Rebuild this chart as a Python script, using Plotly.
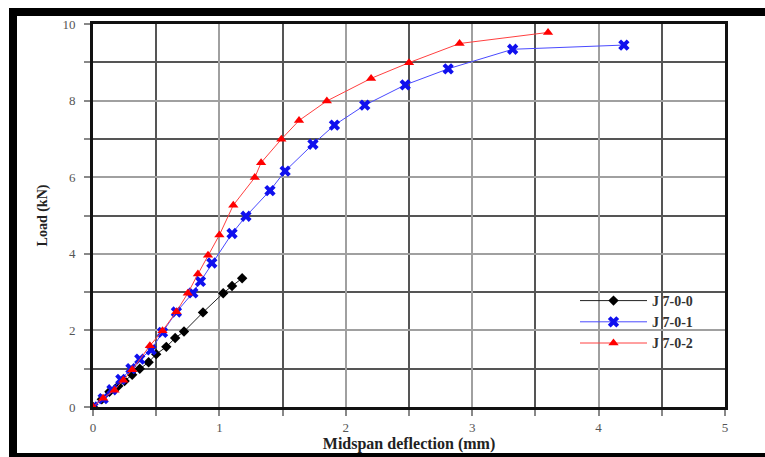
import plotly.graph_objects as go

# ---- data ----
series_names = ["J 7-0-0", "J 7-0-1", "J 7-0-2"]

x_j700 = [0, 0.07, 0.13, 0.20, 0.25, 0.31, 0.37, 0.44, 0.50, 0.58, 0.65, 0.72, 0.87, 1.03, 1.10, 1.18]
y_j700 = [0, 0.20, 0.40, 0.55, 0.68, 0.84, 1.00, 1.17, 1.38, 1.57, 1.80, 1.97, 2.47, 2.97, 3.16, 3.36]

x_j701 = [0, 0.08, 0.15, 0.22, 0.30, 0.37, 0.46, 0.55, 0.66, 0.79, 0.85, 0.94, 1.10, 1.21, 1.40, 1.52, 1.74, 1.91, 2.15, 2.47, 2.81, 3.32, 4.20]
y_j701 = [0, 0.22, 0.45, 0.72, 1.00, 1.25, 1.49, 1.95, 2.48, 2.98, 3.28, 3.76, 4.53, 4.98, 5.65, 6.16, 6.86, 7.36, 7.88, 8.41, 8.83, 9.34, 9.45]

x_j702 = [0, 0.08, 0.17, 0.24, 0.31, 0.45, 0.55, 0.66, 0.75, 0.83, 0.91, 1.00, 1.11, 1.28, 1.33, 1.49, 1.63, 1.85, 2.20, 2.50, 2.90, 3.60]
y_j702 = [0, 0.23, 0.44, 0.70, 0.97, 1.60, 1.99, 2.49, 2.97, 3.47, 3.96, 4.49, 5.27, 5.99, 6.38, 6.99, 7.48, 7.99, 8.58, 8.99, 9.49, 9.78]

x_tick_vals = [0, 1, 2, 3, 4, 5]
x_tick_text = ["0", "1", "2", "3", "4", "5"]
y_tick_vals = [0, 2, 4, 6, 8, 10]
y_tick_text = ["0", "2", "4", "6", "8", "10"]

x_title = "Midspan deflection (mm)"
y_title = "Load (kN)"

FONT = "Liberation Serif, Times New Roman, serif"

fig = go.Figure()
fig.add_trace(go.Scatter(
    x=x_j700, y=y_j700, mode="lines+markers", name=series_names[0],
    line=dict(color="#222222", width=1),
    marker=dict(symbol="diamond", size=8, color="#000000"),
))
fig.add_trace(go.Scatter(
    x=x_j701, y=y_j701, mode="lines+markers", name=series_names[1],
    line=dict(color="#4a4aff", width=1),
    marker=dict(symbol="x", size=10, color="#1010ee"),
))
fig.add_trace(go.Scatter(
    x=x_j702, y=y_j702, mode="lines+markers", name=series_names[2],
    line=dict(color="#ff4040", width=1),
    marker=dict(symbol="triangle-up", size=9, color="#ff0000"),
))

L, R, T, B = 93, 40, 24, 50
W, H = 765, 457
pw, ph = W - L - R, H - T - B


def px(xp):
    return (xp - L) / pw


def py(yp):
    return (H - B - yp) / ph


# outer frame of the picture (top, left, bottom thick black bars)
frame = [
    dict(x0=px(9), x1=px(800), y0=py(8), y1=py(16)),
    dict(x0=px(9), x1=px(17), y0=py(8), y1=py(460)),
    dict(x0=px(9), x1=px(800), y0=py(453), y1=py(460)),
]
shapes = [dict(type="rect", xref="paper", yref="paper", line=dict(width=0),
               fillcolor="black", layer="above", **f) for f in frame]

fig.update_layout(
    width=W, height=H,
    margin=dict(l=L, r=R, t=T, b=B, autoexpand=False),
    paper_bgcolor="white", plot_bgcolor="white",
    font=dict(family=FONT, color="#444444"),
    shapes=shapes,
    showlegend=True,
    legend=dict(
        x=px(575), y=py(285), xanchor="left", yanchor="top",
        bgcolor="rgba(0,0,0,0)", borderwidth=0,
        font=dict(family=FONT, size=14, color="#333333", weight="bold"),
        tracegroupgap=0, itemwidth=67,
    ),
    xaxis=dict(
        range=[0, 5], tickmode="array", tickvals=x_tick_vals, ticktext=x_tick_text,
        automargin=False,
        showgrid=True, gridcolor="#a0a0a0", gridwidth=1.5,
        minor=dict(dtick=0.5, showgrid=True, gridcolor="#555555", gridwidth=1.5,
                   ticks="outside", ticklen=6, tickcolor="#888888"),
        ticks="outside", ticklen=6, tickcolor="#888888", tickwidth=1.5,
        tickfont=dict(family=FONT, size=13, color="#555555"),
        ticklabelstandoff=0,
        showline=True, linecolor="#111111", linewidth=3, mirror=True,
        zeroline=False,
        title=dict(text="<b>" + x_title + "</b>", font=dict(family=FONT, size=16, color="#222222"),
                   standoff=3),
    ),
    yaxis=dict(
        range=[0, 10], tickmode="array", tickvals=y_tick_vals, ticktext=y_tick_text,
        automargin=False,
        showgrid=True, gridcolor="#a0a0a0", gridwidth=1.5,
        minor=dict(dtick=1, showgrid=True, gridcolor="#555555", gridwidth=1.5,
                   ticks="outside", ticklen=6, tickcolor="#888888"),
        ticks="outside", ticklen=6, tickcolor="#888888", tickwidth=1.5,
        tickfont=dict(family=FONT, size=13, color="#555555"),
        ticklabelstandoff=6,
        showline=True, linecolor="#111111", linewidth=3, mirror=True,
        zeroline=False,
        title=dict(text="<b>" + y_title + "</b>", font=dict(family=FONT, size=14, color="#222222"),
                   standoff=12),
    ),
)

post = (
    "document.body.style.margin='0';"
    "document.body.style.overflow='hidden';"
)

fig.write_html("out.html", post_script=post, config={"displayModeBar": False})
